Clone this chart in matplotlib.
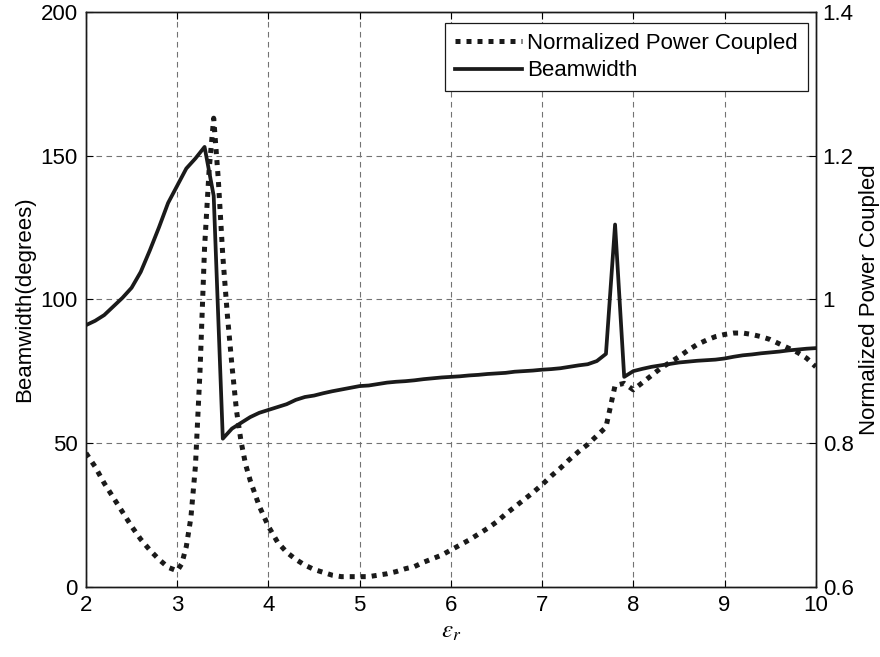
import numpy as np
import matplotlib
matplotlib.use("Agg")
import matplotlib.pyplot as plt

plt.rcParams['font.family'] = ['Liberation Sans', 'DejaVu Sans']
plt.rcParams['mathtext.fontset'] = 'stix'

# ---- beamwidth (left axis, degrees), sampled every 0.1 ----
eps_bw = np.round(np.arange(2.0, 10.01, 0.1), 2)
beamwidth = [
    91, 92.5, 94.5, 97.5, 100.5, 104, 109.5, 117, 125, 133.5,        # 2.0-2.9
    139.5, 145.5, 149, 153, 136, 51.5, 55, 57, 59, 60.5,            # 3.0-3.9
    61.5, 62.5, 63.5, 65, 66, 66.5, 67.3, 68, 68.6, 69.2,           # 4.0-4.9
    69.8, 70, 70.5, 71, 71.3, 71.5, 71.8, 72.2, 72.5, 72.8,         # 5.0-5.9
    73, 73.2, 73.5, 73.7, 74, 74.2, 74.4, 74.8, 75, 75.2,           # 6.0-6.9
    75.5, 75.7, 76, 76.5, 77, 77.4, 78.5, 81, 126, 73,              # 7.0-7.9
    75, 75.8, 76.5, 77, 77.5, 78, 78.3, 78.6, 78.8, 79,             # 8.0-8.9
    79.4, 80, 80.5, 80.8, 81.2, 81.5, 81.8, 82.2, 82.5, 82.8,       # 9.0-9.9
    83,                                                              # 10.0
]

# ---- normalized power coupled (right axis) ----
eps_pw = [
    2.0, 2.1, 2.2, 2.3, 2.4, 2.5, 2.6, 2.7, 2.8, 2.9,
    3.0, 3.05, 3.1, 3.15, 3.2, 3.25, 3.3, 3.35, 3.4, 3.45,
    3.5, 3.55, 3.6, 3.65, 3.7, 3.75, 3.8, 3.9,
    4.0, 4.1, 4.2, 4.3, 4.4, 4.5, 4.6, 4.7, 4.8, 4.9,
    5.0, 5.1, 5.2, 5.3, 5.4, 5.5, 5.6, 5.7, 5.8, 5.9,
    6.0, 6.1, 6.2, 6.3, 6.4, 6.5, 6.6, 6.7, 6.8, 6.9,
    7.0, 7.1, 7.2, 7.3, 7.4, 7.5, 7.6, 7.7, 7.8, 7.9,
    8.0, 8.1, 8.2, 8.3, 8.4, 8.5, 8.6, 8.7, 8.8, 8.9,
    9.0, 9.1, 9.2, 9.3, 9.4, 9.5, 9.6, 9.7, 9.8, 9.9, 10.0,
]
power = [
    0.786, 0.767, 0.744, 0.724, 0.704, 0.684, 0.666, 0.651, 0.638, 0.627,
    0.622, 0.632, 0.656, 0.696, 0.768, 0.900, 1.072, 1.180, 1.252, 1.168,
    1.060, 0.978, 0.908, 0.845, 0.802, 0.770, 0.748, 0.712,
    0.684, 0.662, 0.648, 0.638, 0.630, 0.624, 0.620, 0.616, 0.614, 0.614,
    0.614, 0.614, 0.616, 0.618, 0.621, 0.625, 0.628, 0.634, 0.639, 0.644,
    0.651, 0.658, 0.665, 0.673, 0.681, 0.690, 0.701, 0.711, 0.721, 0.731,
    0.742, 0.754, 0.765, 0.777, 0.788, 0.798, 0.810, 0.822, 0.880, 0.883,
    0.874, 0.884, 0.894, 0.904, 0.912, 0.920, 0.929, 0.937, 0.943, 0.948,
    0.951, 0.953, 0.953, 0.951, 0.948, 0.944, 0.938, 0.932, 0.926, 0.918, 0.906,
]

x_ticks = [2, 3, 4, 5, 6, 7, 8, 9, 10]
bw_ticks = [0, 50, 100, 150, 200]
pw_ticks = [0.6, 0.8, 1.0, 1.2, 1.4]
pw_labels = ['0.6', '0.8', '1', '1.2', '1.4']

fs = 16
fig = plt.figure(figsize=(8.8, 6.57), dpi=100)
ax1 = fig.add_axes([0.0977, 0.107, 0.8293, 0.875])
ax2 = ax1.twinx()

line_bw, = ax1.plot(eps_bw, beamwidth, '-', color='#1a1a1a', linewidth=2.7,
                    label='Beamwidth')
line_pw, = ax2.plot(eps_pw, power, color='#1a1a1a', linewidth=3.6,
                    linestyle=(0, (1, 1.2)), label='Normalized Power Coupled')

ax1.set_xlim(2, 10)
ax1.set_ylim(0, 200)
ax2.set_ylim(0.6, 1.4)
ax1.set_xticks(x_ticks)
ax1.set_yticks(bw_ticks)
ax2.set_yticks(pw_ticks)
ax2.set_yticklabels(pw_labels)

ax1.grid(True, color='0.45', linestyle=(0, (5, 4)), linewidth=0.8)
ax1.tick_params(axis='both', direction='in', labelsize=fs, length=5, width=0.8,
                top=True, pad=6)
ax2.tick_params(axis='y', direction='in', labelsize=fs, length=5, width=0.8, pad=5)

for ax in (ax1, ax2):
    for s in ax.spines.values():
        s.set_linewidth(1.0)
        s.set_color('#1a1a1a')

ax1.set_xlabel(r'$\varepsilon_r$', fontsize=fs + 2, labelpad=2)
ax1.set_ylabel('Beamwidth(degrees)', fontsize=fs, labelpad=4)
ax2.set_ylabel('Normalized Power Coupled', fontsize=fs, labelpad=4)

leg = ax2.legend([line_pw, line_bw], ['Normalized Power Coupled', 'Beamwidth'],
                 loc='upper right', fontsize=fs, frameon=True, fancybox=False,
                 edgecolor='#1a1a1a', framealpha=1, handlelength=3.0,
                 handletextpad=0.25, borderpad=0.45, labelspacing=0.3,
                 borderaxespad=0, bbox_to_anchor=(0.9895, 0.981))
leg.get_frame().set_linewidth(0.9)

fig.savefig('out.png', dpi=100)
